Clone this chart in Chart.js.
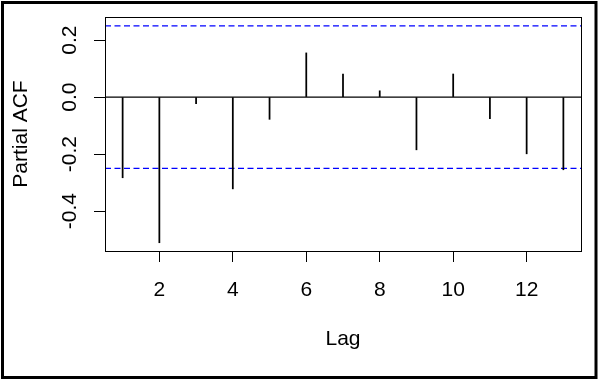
<!DOCTYPE html>
<html>
<head>
<meta charset="utf-8">
<script src="https://cdn.jsdelivr.net/npm/chart.js@4"></script>
<style>
  html, body { margin:0; padding:0; background:#fff; }
  canvas { display:block; }
</style>
</head>
<body>
<canvas id="pacf" width="599" height="381"></canvas>
<script>
// ── data ──────────────────────────────────────────────────────────────────
const LAGS = [1,2,3,4,5,6,7,8,9,10,11,12,13];
const PACF = [-0.283,-0.511,-0.023,-0.322,-0.078,0.155,0.081,0.022,-0.185,0.081,-0.076,-0.199,-0.255];
const CI = 0.25;                        // +/- confidence band
const X_TICKS = [2,4,6,8,10,12];
const Y_TICKS = [-0.4,-0.2,0.0,0.2];
const X_RANGE = [0.52, 13.48];
const Y_RANGE = [-0.540, 0.281];

const FONT = "'Liberation Sans', Arial, sans-serif";

// frame, plot box and the text R puts in the margins
const rFrame = {
  id:'rFrame',
  beforeDraw(chart) {
    const c = chart.ctx;
    c.save(); c.fillStyle = '#fff'; c.fillRect(0, 0, chart.width, chart.height); c.restore();
  },
  afterDraw(chart) {
    const c = chart.ctx, a = chart.chartArea, ys = chart.scales.y;
    c.save();
    c.strokeStyle = '#000';
    c.lineWidth = 1;
    c.strokeRect(a.left + .5, a.top + .5, a.right - a.left, a.bottom - a.top);
    c.lineWidth = 3;
    c.strokeRect(2.5, 2.5, 593.5, 375);

    c.fillStyle = '#000';
    c.font = '21px ' + FONT;
    c.textAlign = 'center'; c.textBaseline = 'middle';
    Y_TICKS.forEach(v => {
      const py = ys.getPixelForValue(v);
      c.save(); c.translate(69, py); c.rotate(-Math.PI/2);
      c.fillText(v.toFixed(1), 0, 1); c.restore();
    });
    c.save(); c.translate(20, (a.top + a.bottom)/2); c.rotate(-Math.PI/2);
    c.fillText('Partial ACF', 0, 1); c.restore();
    c.fillText('Lag', (a.left + a.right)/2, 339);
    c.restore();
  }
};

const dashed = y => ({ type:'line', data:[{x:X_RANGE[0], y},{x:X_RANGE[1], y}],
  borderColor:'#0000ff', borderWidth:1.3, borderDash:[6,3.5], pointRadius:0, fill:false, order:2 });

new Chart(document.getElementById('pacf'), {
  type:'bar',
  data:{ datasets:[
    dashed(CI), dashed(-CI),
    { type:'line', data:[{x:X_RANGE[0], y:0},{x:X_RANGE[1], y:0}],
      borderColor:'#000', borderWidth:1.2, pointRadius:0, fill:false, order:1 },
    { type:'bar', data: LAGS.map((l,i) => ({x:l, y:PACF[i]})),
      backgroundColor:'#000', borderWidth:0, barThickness:1.1, order:0 }
  ] },
  options:{
    responsive:false, animation:false, devicePixelRatio:1,
    layout:{ padding:{ left:0, right:18, top:17, bottom:0 } },
    plugins:{ legend:{ display:false }, tooltip:{ enabled:false } },
    scales:{
      x:{ type:'linear', min:X_RANGE[0], max:X_RANGE[1], offset:false,
        afterBuildTicks: s => { s.ticks = X_TICKS.map(v => ({value:v})); },
        afterFit: s => { s.height = 130; },
        border:{ display:false },
        grid:{ offset:false, drawOnChartArea:false, drawTicks:true, tickLength:11, color:'#000', lineWidth:1 },
        ticks:{ color:'#000', padding:16, maxRotation:0, font:{ family:FONT, size:21 } } },
      y:{ type:'linear', min:Y_RANGE[0], max:Y_RANGE[1],
        afterBuildTicks: s => { s.ticks = Y_TICKS.map(v => ({value:v})); },
        afterFit: s => { s.width = 105; },
        border:{ display:false },
        grid:{ drawOnChartArea:false, drawTicks:true, tickLength:11, color:'#000', lineWidth:1 },
        ticks:{ display:false } }
    }
  },
  plugins:[rFrame]
});
</script>
</body>
</html>
